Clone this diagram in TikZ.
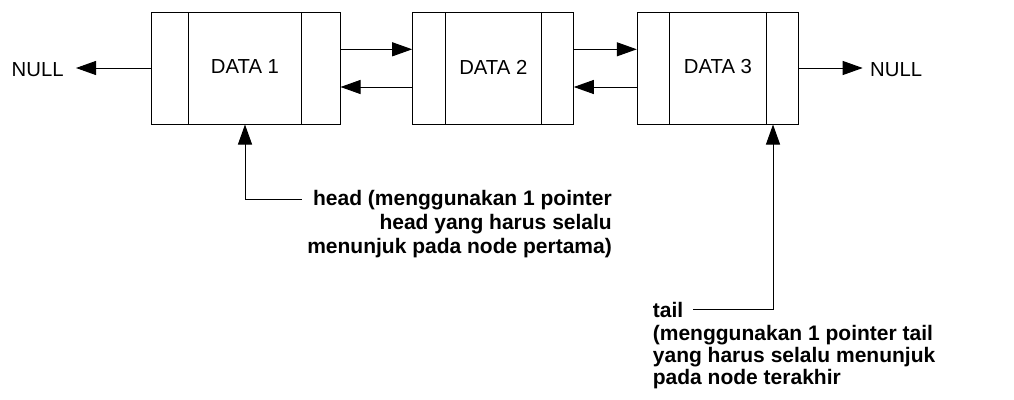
\documentclass[tikz,border=0pt]{standalone}
\usepackage{fontspec}
\setmainfont{Liberation Sans}
\usetikzlibrary{arrows.meta}

\tikzset{
  cell/.style={draw, line width=1pt, minimum height=112pt, inner sep=0pt},
  link/.style={line width=1pt, -{Triangle[length=20pt,width=14pt]}},
  wire/.style={line width=1pt},
  lbl/.style={inner sep=0pt, font=\fontsize{20.3}{24}\selectfont},
  note/.style={inner sep=0pt, font=\bfseries\fontsize{21}{24}\selectfont},
  tnote/.style={inner sep=0pt, font=\bfseries\fontsize{21}{22}\selectfont}
}

\begin{document}
\begin{tikzpicture}[x=1pt, y=-1pt]
  \useasboundingbox (0,0) rectangle (1014,399);

  % the three list nodes
  \node[cell, minimum width=189pt] (b1) at (245.5,68) {};
  \node[cell, minimum width=160.6pt] (b2) at (493,68) {};
  \node[cell, minimum width=161pt] (b3) at (717.8,68) {};

  % pointer fields (prev | data | next)
  \draw[wire] (188.7,12) -- (188.7,124) (301.7,12) -- (301.7,124);
  \draw[wire] (445,12) -- (445,124) (541.7,12) -- (541.7,124);
  \draw[wire] (669.3,12) -- (669.3,124) (766.7,12) -- (766.7,124);

  \node[lbl] (d1) at (245,67) {DATA 1};
  \node[lbl] (d2) at (493.3,67) {DATA 2};
  \node[lbl] (d3) at (718,67) {DATA 3};

  \node[lbl, anchor=west] (nl) at (11.5,69.5) {NULL};
  \node[lbl, anchor=west] (nr) at (870,69.5) {NULL};

  % next / prev links
  \draw[link] ([yshift=18.7pt]b1.east) -- ([yshift=18.7pt]b2.west);
  \draw[link] ([yshift=-19pt]b2.west) -- ([yshift=-19pt]b1.east);
  \draw[link] ([yshift=18.7pt]b2.east) -- ([yshift=18.7pt]b3.west);
  \draw[link] ([yshift=-19pt]b3.west) -- ([yshift=-19pt]b2.east);
  \draw[link] (b1.west) -- (76,68);
  \draw[link] (b3.east) -- (862.7,68);

  % head pointer
  \node[note, anchor=north east, align=right] (head) at (612,190.5)
    {head (menggunakan 1 pointer\\head yang harus selalu\\menunjuk pada node pertama)};
  \coordinate (hs) at (301.7,199);
  \coordinate (hk) at (245,199);
  \draw[link] (hs) -- (hk) -- (hk |- b1.south);

  % tail pointer
  \node[tnote, anchor=base west] (tailw) at (652.7,317) {tail};
  \node[tnote, anchor=north west, align=left] (tail) at (652.7,325)
    {(menggunakan 1 pointer tail\\yang harus selalu menunjuk\\pada node terakhir};
  \coordinate (ts) at (693,309);
  \coordinate (tk) at (773,309);
  \draw[link] (ts) -- (tk) -- (tk |- b3.south);
\end{tikzpicture}
\end{document}
